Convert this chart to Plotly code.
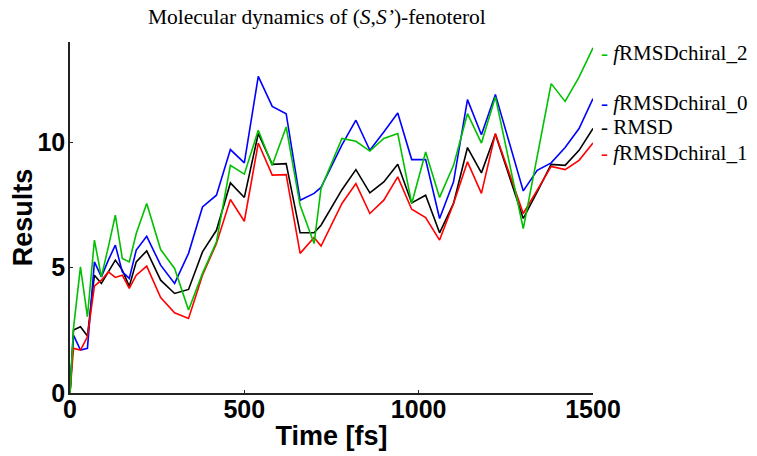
import plotly.graph_objects as go

time_fs = [0, 10, 30, 50, 70, 90, 110, 130, 150, 170, 190, 220, 260, 300, 340, 380, 420, 460, 500,
           540, 580, 620, 660, 700, 720, 780, 820, 860, 900, 940, 980, 1020, 1060, 1100, 1140,
           1180, 1220, 1300, 1340, 1380, 1420, 1460, 1500]

rmsd = [0, 2.51, 2.64, 2.27, 4.70, 4.37, 4.83, 5.30, 4.90, 4.26, 5.23, 5.67, 4.50, 3.97, 4.13,
        5.63, 6.49, 8.38, 7.80, 10.35, 9.12, 9.15, 6.39, 6.39, 6.69, 8.11, 8.91, 7.98, 8.42,
        9.12, 7.58, 7.89, 6.39, 7.56, 9.79, 8.78, 10.32, 6.96, 8.02, 9.12, 9.08, 9.68, 10.55]

chiral_0 = [0, 2.31, 1.71, 1.78, 5.23, 4.63, 5.30, 5.90, 4.83, 4.57, 5.70, 6.25, 5.10, 4.37, 5.57,
            7.42, 7.89, 9.71, 9.18, 12.63, 11.43, 11.14, 7.69, 7.96, 8.20, 9.90, 10.88, 9.68,
            10.41, 11.17, 9.31, 9.31, 6.96, 8.42, 11.70, 10.30, 11.91, 8.06, 8.88, 9.18, 9.79,
            10.55, 11.74]

chiral_1 = [0, 1.78, 1.71, 2.24, 4.26, 4.50, 4.83, 4.61, 4.70, 4.17, 4.70, 5.06, 3.81, 3.20, 2.97,
            4.70, 5.96, 7.72, 6.85, 9.97, 8.69, 8.71, 5.57, 6.20, 5.86, 7.56, 8.35, 7.16, 7.69,
            8.62, 7.33, 7.00, 6.10, 7.56, 9.22, 7.96, 10.35, 7.16, 8.09, 9.04, 8.91, 9.28, 9.97]

chiral_2 = [0, 2.58, 5.03, 3.04, 6.10, 4.63, 5.83, 7.09, 5.37, 5.23, 6.36, 7.56, 5.72, 4.97, 3.31,
            4.77, 6.03, 9.08, 8.73, 10.48, 9.08, 10.61, 7.49, 5.96, 8.16, 10.15, 10.04, 9.65,
            10.15, 10.35, 7.56, 9.61, 7.80, 9.08, 11.14, 9.97, 11.81, 6.56, 9.44, 12.34, 11.63,
            12.60, 13.77]

series_names = ["RMSD", "<i>f</i>RMSDchiral_0", "<i>f</i>RMSDchiral_1", "<i>f</i>RMSDchiral_2"]
series_values = [rmsd, chiral_0, chiral_1, chiral_2]
series_colors = ["#000000", "#0000ff", "#ff0000", "#00c000"]
label_y = [10.6, 11.55, 9.56, 13.55]

x_ticks = [0, 500, 1000, 1500]
y_ticks = [0, 5, 10]

fig = go.Figure()
for name, vals, col in zip(series_names, series_values, series_colors):
    fig.add_trace(go.Scatter(x=time_fs, y=vals, mode="lines", name=name,
                             line=dict(color=col, width=1.6), showlegend=False))

for name, ly, col in zip(series_names, label_y, series_colors):
    fig.add_annotation(x=1.0115, xref="paper", y=ly, yref="y", xanchor="left", yanchor="middle",
                       showarrow=False,
                       text=f'<span style="color:{col}">-</span> {name}',
                       font=dict(family="Liberation Serif, Times New Roman, serif", size=21,
                                 color="#000000"))

tick_font = dict(family="Liberation Sans, Arial, sans-serif", size=25, color="#000000")
title_font = dict(family="Liberation Sans, Arial, sans-serif", size=27, color="#000000")

fig.update_layout(
    width=757, height=456,
    margin=dict(l=62, r=172, t=34, b=71),
    paper_bgcolor="white", plot_bgcolor="white",
    title=dict(text="Molecular dynamics of (<i>S</i>,<i>S’</i>)-fenoterol",
               x=0.408, xanchor="center", y=0.998, yanchor="top",
               font=dict(family="Liberation Serif, Times New Roman, serif", size=21.5,
                         color="#000000")),
    xaxis=dict(range=[0, 1500], tickvals=x_ticks, ticktext=[f"<b>{v}</b>" for v in x_ticks],
               showgrid=False, zeroline=False, showline=True, linecolor="#222222", linewidth=1.5,
               ticks="inside", ticklen=3, tickcolor="#222222", tickfont=tick_font,
               ticklabelstandoff=-7, automargin=False,
               title=dict(text="<b>Time [fs]</b>", font=title_font, standoff=4)),
    yaxis=dict(range=[0, 14], tickvals=y_ticks, ticktext=[f"<b>{v}</b>" for v in y_ticks],
               showgrid=False, zeroline=False, showline=True, linecolor="#222222", linewidth=1.5,
               ticks="inside", ticklen=3, tickcolor="#222222", tickfont=tick_font,
               ticklabelstandoff=-2, automargin=False,
               title=dict(text="<b>Results</b>", font=title_font, standoff=0)),
)

fig.write_html("out.html")
